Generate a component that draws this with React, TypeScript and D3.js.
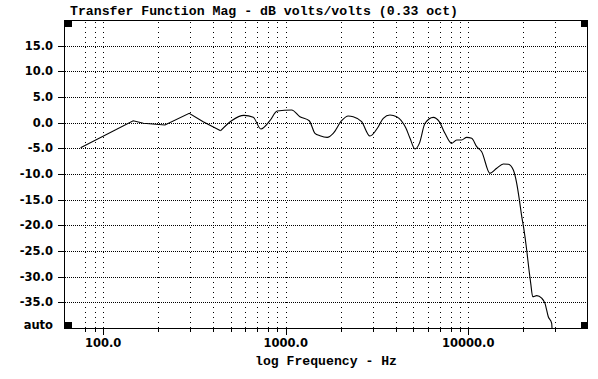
import React from "react";
import * as d3 from "d3";

const freqs = [75.2, 146, 166, 218, 296, 353, 440, 505, 590, 664, 731, 819, 898, 1077, 1196, 1345, 1446, 1540, 1687, 1820, 2023, 2199, 2342, 2605, 2892, 3213, 3422, 3723, 4052, 4558, 4795, 5109, 5395, 5794, 6430, 6935, 7450, 8110, 8636, 9199, 9796, 10440, 11120, 11840, 13140, 14310, 15560, 16570, 17650, 18420, 19030, 19630, 20190, 20890, 21510, 21980, 22540, 23700, 25240, 26310, 27430, 28630, 28750];
const magDb = [-4.88, 0.38, -0.1, -0.46, 1.82, 0.19, -1.56, 0.38, 1.43, 1.04, -1.23, 0.38, 2.27, 2.47, 1.17, 0.38, -2.08, -2.54, -2.86, -2.08, 0.38, 1.3, 1.17, 0.19, -2.6, -0.79, 0.85, 1.49, 1.17, -1.1, -3.05, -5.13, -4.03, -0.12, 1.04, 0.19, -2.08, -4.03, -3.38, -3.38, -2.86, -3.05, -4.68, -5.66, -9.87, -8.89, -8.05, -8.11, -9.22, -11.82, -14.93, -18.3, -20.9, -24.8, -28.7, -31.3, -33.9, -33.7, -34.2, -35.2, -37.8, -39.1, -40];
const straightCount = 7;

const yTicks = [15, 10, 5, 0, -5, -10, -15, -20, -25, -30, -35];
const yTickLabels = ["15.0", "10.0", "5.0", "0.0", "-5.0", "-10.0", "-15.0", "-20.0", "-25.0", "-30.0", "-35.0"];
const xGrid = [80, 90, 100, 200, 300, 400, 500, 600, 700, 800, 900, 1000, 2000, 3000, 4000, 5000, 6000, 7000, 8000, 9000, 10000, 20000, 30000];
const xMajor = [100, 1000, 10000];
const xMajorLabels = ["100.0", "1000.0", "10000.0"];
const title = "Transfer Function Mag - dB volts/volts (0.33 oct)";
const xTitle = "log Frequency - Hz";
const yBottomLabel = "auto";

export default function App() {
  const L = 64, R = 587, T = 20, B = 328;
  const x = d3.scaleLog().domain([61, 44700]).range([L, R]);
  const y = d3.scaleLinear().domain([-40, 20]).range([B, T]);
  const pts = freqs.map((f, i) => [f, magDb[i]] as [number, number]);
  const lineStraight = d3.line<[number, number]>().x(d => x(d[0])).y(d => y(d[1])).curve(d3.curveLinear);
  const lineSmooth = d3.line<[number, number]>().x(d => x(d[0])).y(d => y(d[1])).curve(d3.curveMonotoneX);
  const mono = "'Liberation Mono', 'DejaVu Sans Mono', monospace";
  const sans = "'DejaVu Sans', sans-serif";
  return (
    <svg width={598} height={379} style={{ position: "absolute", left: 0, top: 0, background: "#fff" }}>
      <rect x={0} y={0} width={598} height={379} fill="#fff" />
      <text x={70} y={15} fontFamily={mono} fontWeight="bold" fontSize={13} textLength={388} lengthAdjust="spacingAndGlyphs">{title}</text>
      <g shapeRendering="crispEdges">
        {yTicks.map(t => (
          <line key={"h" + t} x1={L + 1} x2={R} y1={Math.round(y(t)) + 0.5} y2={Math.round(y(t)) + 0.5} stroke="#000" strokeWidth={1} strokeDasharray="1,1" />
        ))}
        {xGrid.map(f => (
          <line key={"v" + f} x1={Math.round(x(f)) + 0.5} x2={Math.round(x(f)) + 0.5} y1={T + 2} y2={B} stroke="#000" strokeWidth={1} strokeDasharray="1,4" />
        ))}
        <rect x={L + 0.5} y={T + 0.5} width={R - L} height={B - T} fill="none" stroke="#000" strokeWidth={1} />
        {yTicks.map(t => (
          <line key={"yt" + t} x1={L - 6} x2={L} y1={Math.round(y(t)) + 0.5} y2={Math.round(y(t)) + 0.5} stroke="#000" />
        ))}
        {xGrid.map(f => (
          <line key={"xt" + f} x1={Math.round(x(f)) + 0.5} x2={Math.round(x(f)) + 0.5} y1={B} y2={B + (xMajor.includes(f) ? 7 : 4)} stroke="#000" />
        ))}
        <rect x={L} y={T} width={8} height={7} fill="#000" />
        <rect x={R - 6} y={T} width={7} height={7} fill="#000" />
        <rect x={L} y={B - 6} width={8} height={7} fill="#000" />
        <rect x={R - 6} y={B - 6} width={7} height={7} fill="#000" />
      </g>
      {yTicks.map((t, i) => (
        <text key={"yl" + t} x={53} y={y(t)} dy="0.36em" textAnchor="end" fontFamily={sans} fontWeight="bold" fontSize={11.5}>{yTickLabels[i]}</text>
      ))}
      <text x={53} y={y(-40)} dy="0.1em" textAnchor="end" fontFamily={sans} fontWeight="bold" fontSize={11.5}>{yBottomLabel}</text>
      {xMajor.map((f, i) => (
        <text key={"xl" + f} x={x(f)} y={347} textAnchor="middle" fontFamily={sans} fontWeight="bold" fontSize={11.5}>{xMajorLabels[i]}</text>
      ))}
      <text x={255} y={365} fontFamily={mono} fontWeight="bold" fontSize={13} textLength={142} lengthAdjust="spacingAndGlyphs">{xTitle}</text>
      <path d={lineStraight(pts.slice(0, straightCount)) || ""} fill="none" stroke="#000" strokeWidth={1.1} />
      <path d={lineSmooth(pts.slice(straightCount - 1)) || ""} fill="none" stroke="#000" strokeWidth={1.1} />
    </svg>
  );
}
